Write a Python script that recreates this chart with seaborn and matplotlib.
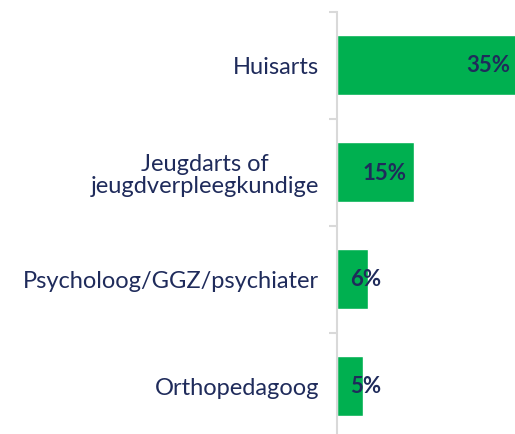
import matplotlib
matplotlib.use("Agg")
import matplotlib.pyplot as plt
import seaborn as sns
import pandas as pd

categories = ["Huisarts", "Jeugdarts of\njeugdverpleegkundige", "Psycholoog/GGZ/psychiater", "Orthopedagoog"]
values = [35, 15, 6, 5]
value_labels = ["35%", "15%", "6%", "5%"]

GREEN = "#00B050"
NAVY = "#1F2B5B"
GRID = "#D9D9D9"

sns.set_theme(style="white")
plt.rcParams['font.family'] = ['Lato', 'DejaVu Sans']

df = pd.DataFrame({"cat": categories, "val": values})

fig = plt.figure(figsize=(5.15, 4.35), dpi=100)
ax = fig.add_axes([337 / 515, 1 - 440.5 / 435, 178 / 515, 428 / 435])

sns.barplot(data=df, x="val", y="cat", color=GREEN, width=0.56, saturation=1, ax=ax)

ax.set_xlim(0, 34.5)
ax.set_ylim(len(categories) - 0.5, -0.5)
ax.set_xlabel("")
ax.set_ylabel("")
ax.set_xticks([])

for s in ["top", "right", "bottom"]:
    ax.spines[s].set_visible(False)
ax.spines["left"].set_color(GRID)
ax.spines["left"].set_linewidth(1.5)

# category labels without major tick marks, separators as minor ticks
ax.tick_params(axis="y", which="major", left=True, length=0, pad=13, labelsize=17, labelcolor=NAVY)
ax.set_yticks([i + 0.5 for i in range(-1, len(categories))], minor=True)
ax.tick_params(axis="y", which="minor", left=True, length=6, width=1.5, color=GRID, direction="out")
for lbl in ax.get_yticklabels():
    lbl.set_horizontalalignment("right")
    lbl.set_multialignment("center")
    lbl.set_linespacing(1.05)

for i, (v, t) in enumerate(zip(values, value_labels)):
    ax.text(max(v - 1.5, 8.5), i, t, ha="right", va="center",
            fontsize=16, fontweight="bold", color=NAVY, clip_on=False)

fig.savefig("out.png", dpi=100)
